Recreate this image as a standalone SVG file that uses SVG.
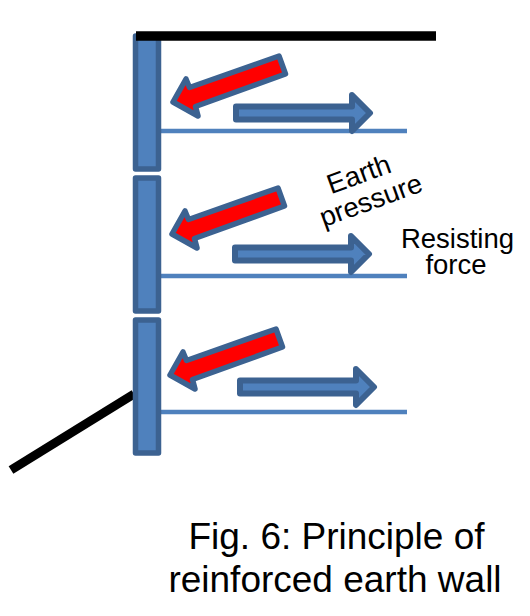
<svg xmlns="http://www.w3.org/2000/svg" width="530" height="616" viewBox="0 0 530 616">
<style>
.panel{fill:#4f81bd;stroke:#3c6291;stroke-width:5.5;stroke-linejoin:round}
.strip{stroke:#4f81bd;stroke-width:4.5;fill:none}
.black{stroke:#000;fill:none}
.red{fill:#f00;stroke:#3c6291;stroke-width:5.5;stroke-linejoin:round}
.blue{fill:#4f81bd;stroke:#3c6291;stroke-width:6;stroke-linejoin:round}
text{font-family:"Liberation Sans",Arial,sans-serif;fill:#000;text-anchor:middle}
.lab{font-size:27.5px}
.cap{font-size:37px}
</style>
<defs>
<polygon id="ep" points="173,102 186,79 189.500,87.500 279,56 285.500,74 195.500,106.500 198,116"/>
<polygon id="rf" points="236,106.500 352,106.500 352,95 370,113 352,131 352,119.500 236,119.500"/>
</defs>
<g id="connectors">
<line class="strip" x1="160" y1="131" x2="407" y2="131"/>
<line class="strip" x1="160" y1="276" x2="407" y2="276"/>
<line class="strip" x1="160" y1="412" x2="407" y2="412"/>
<line class="black" stroke-width="9" x1="134" y1="394" x2="11" y2="470"/>
</g>
<g id="panel-1"><rect class="panel" x="135.500" y="36" width="23" height="133"/></g>
<g id="panel-2"><rect class="panel" x="135.500" y="178" width="23" height="133"/></g>
<g id="panel-3"><rect class="panel" x="135.500" y="320" width="23" height="133"/></g>
<g id="ground"><line class="black" stroke-width="9.500" x1="136" y1="36" x2="436" y2="36"/></g>
<g id="earth-pressure-1"><use href="#ep" class="red"/></g>
<g id="earth-pressure-2"><use href="#ep" class="red" transform="translate(-1 132)"/></g>
<g id="earth-pressure-3"><use href="#ep" class="red" transform="translate(-3 273)"/></g>
<g id="resisting-force-1"><use href="#rf" class="blue"/></g>
<g id="resisting-force-2"><use href="#rf" class="blue" transform="translate(-1 141)"/></g>
<g id="resisting-force-3"><use href="#rf" class="blue" transform="translate(4 274)"/></g>
<g id="label-earth-pressure">
<text class="lab" transform="translate(362 183) rotate(-20)">Earth</text>
<text class="lab" transform="translate(374 209) rotate(-20)">pressure</text>
</g>
<g id="label-resisting-force">
<text class="lab" x="457.500" y="248">Resisting</text>
<text class="lab" x="456" y="274">force</text>
</g>
<g id="caption">
<text class="cap" x="336.500" y="549">Fig. 6: Principle of</text>
<text class="cap" x="335" y="592">reinforced earth wall</text>
</g>
</svg>
